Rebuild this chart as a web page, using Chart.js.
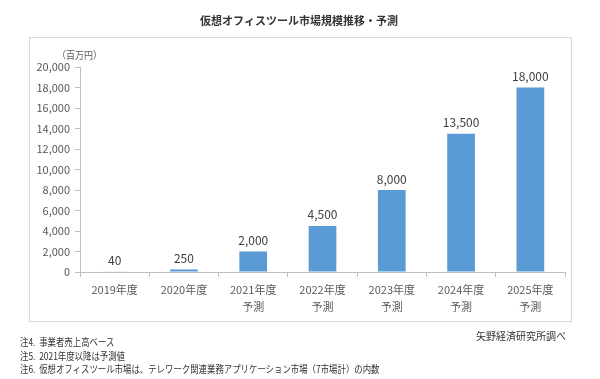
<!DOCTYPE html>
<html>
<head>
<meta charset="utf-8">
<script src="https://cdn.jsdelivr.net/npm/chart.js@4"></script>
<style>
  body { margin: 0; background: #fff; font-family: "Noto Sans CJK JP", sans-serif; }
  #wrap { position: relative; width: 600px; height: 379px; overflow: hidden; }
  #chart { position: absolute; left: 0; top: 0; }
  .txt { position: absolute; color: #333; white-space: nowrap; }
  #title { left: 0; width: 598px; top: 12px; text-align: center; font-size: 11px; font-weight: bold; }
  #frame { position: absolute; left: 29px; top: 37px; width: 541px; height: 283px; border: 1px solid #d9d9d9; }
  #unit { left: 57px; top: 47px; font-size: 10px; color: #595959; transform: scaleX(0.9); transform-origin: left; }
  #source { right: 34px; top: 328px; font-size: 10px; }
  .note { left: 20px; font-size: 10px; line-height: 13px; transform: scaleX(0.84); transform-origin: left; }
</style>
</head>
<body>
<div id="wrap">
  <div id="frame"></div>
  <canvas id="chart" width="600" height="379"></canvas>
  <div class="txt" id="title">仮想オフィスツール市場規模推移・予測</div>
  <div class="txt" id="unit">（百万円）</div>
  <div class="txt" id="source">矢野経済研究所調べ</div>
  <div class="txt note" style="top:335px">注4.&nbsp; 事業者売上高ベース</div>
  <div class="txt note" style="top:349px">注5.&nbsp; 2021年度以降は予測値</div>
  <div class="txt note" style="top:362px">注6.&nbsp; 仮想オフィスツール市場は、テレワーク関連業務アプリケーション市場（7市場計）の内数</div>
</div>
<script>
const years = ["2019年度", "2020年度", "2021年度", "2022年度", "2023年度", "2024年度", "2025年度"];
const forecastMark = ["", "", "予測", "予測", "予測", "予測", "予測"];
const marketSize = [40, 250, 2000, 4500, 8000, 13500, 18000];
const yMax = 20000;
const yStep = 2000;

const labels = years.map((y, i) => (forecastMark[i] ? [y, forecastMark[i]] : y));

const valueLabels = {
  id: "valueLabels",
  afterDatasetsDraw(chart) {
    const ctx = chart.ctx;
    const meta = chart.getDatasetMeta(0);
    ctx.save();
    ctx.font = "12px 'Noto Sans CJK JP'";
    ctx.fillStyle = "#404040";
    ctx.textAlign = "center";
    ctx.textBaseline = "bottom";
    meta.data.forEach((bar, i) => {
      ctx.fillText(marketSize[i].toLocaleString("en-US"), bar.x, bar.y - 5);
    });
    ctx.restore();
  },
};

const chartMarket = document.getElementById("chart");

new Chart(chartMarket, {
  type: "bar",
  data: {
    labels: labels,
    datasets: [
      {
        data: marketSize,
        backgroundColor: "#5B9BD5",
        categoryPercentage: 0.8,
        barPercentage: 0.5,
      },
    ],
  },
  options: {
    responsive: false,
    animation: false,
    layout: { padding: { left: 10, right: 35, top: 67, bottom: 0 } },
    plugins: { legend: { display: false }, tooltip: { enabled: false } },
    scales: {
      x: {
        afterFit: (s) => { s.height = 107; },
        border: { color: "#BFBFBF" },
        grid: { drawOnChartArea: false, tickLength: 5, color: "#BFBFBF", offset: true },
        ticks: {
          color: "#595959",
          font: { size: 11, family: "'Noto Sans CJK JP'", lineHeight: 1.55 },
          padding: 4,
          maxRotation: 0,
        },
      },
      y: {
        min: 0,
        max: yMax,
        afterFit: (s) => { s.width = 70; },
        border: { color: "#BFBFBF" },
        grid: { drawOnChartArea: false, tickLength: 5, color: "#BFBFBF" },
        ticks: {
          stepSize: yStep,
          color: "#595959",
          font: { size: 11, family: "'Noto Sans CJK JP'" },
          padding: 5,
          callback: (v) => v.toLocaleString("en-US"),
        },
      },
    },
  },
  plugins: [valueLabels],
});
</script>
</body>
</html>
